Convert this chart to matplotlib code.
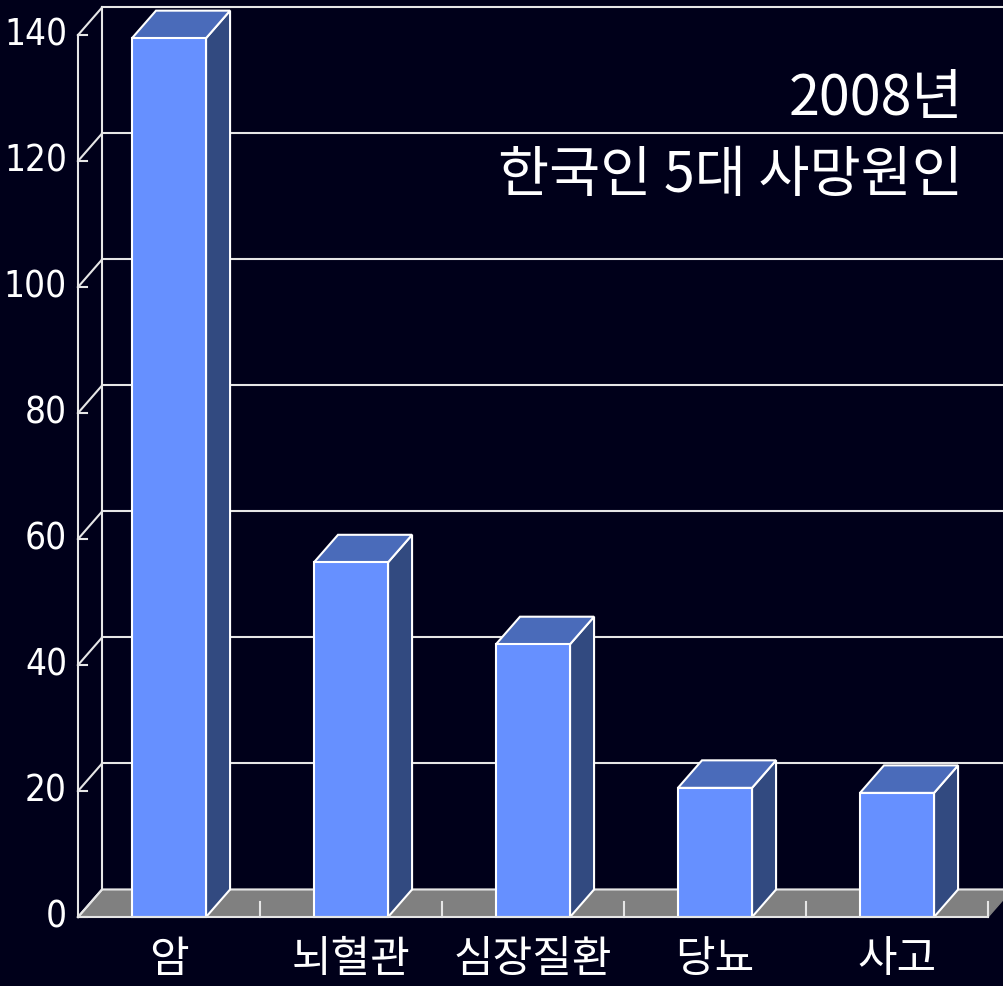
import matplotlib
matplotlib.use('Agg')
import matplotlib.pyplot as plt
from matplotlib import font_manager

# data
categories = ['암', '뇌혈관', '심장질환', '당뇨', '사고']
values = [139.5, 56.3, 43.3, 20.5, 19.7]
yticks = [0, 20, 40, 60, 80, 100, 120, 140]
title_lines = ['2008년', '한국인 5대 사망원인']

# colours
bg = '#00001A'
front_c = '#6690FF'
top_c = '#4A6BBA'
side_c = '#324A80'
floor_c = '#808080'
line_c = '#E6E6E6'

# 3d look: depth offset in data units
dx = 0.132
dy = 4.37
bw = 0.407


def find_narrow():
    # look for a condensed face among the installed fonts
    keys = ['LiberationSansNarrow-Regular', 'DejaVuSansCondensed.',
            'RobotoCondensed-Regular', 'OpenSans_Condensed-Regular',
            'OpenSansCondensed', 'Narrow', 'Condensed']
    files = [f.fname for f in font_manager.fontManager.ttflist]
    files += font_manager.findSystemFonts()
    for k in keys:
        for fn in files:
            base = fn.split('/')[-1]
            if k in base and 'Bold' not in base and 'Italic' not in base \
                    and 'Oblique' not in base and 'Light' not in base:
                return fn
    return None


nfile = find_narrow()
if nfile:
    tick_fp = font_manager.FontProperties(fname=nfile, size=26.5)
else:
    tick_fp = font_manager.FontProperties(family='DejaVu Sans', size=23)
kr = ['Noto Sans CJK KR', 'DejaVu Sans']

fig = plt.figure(figsize=(10.04, 9.86), dpi=100, facecolor=bg)
ax = fig.add_axes([0, 0, 1, 1])
ax.set_facecolor(bg)
ax.axis('off')
ax.set_xlim(-0.9286, 4.5879)
ax.set_ylim(-10.95, 145.56)

n = len(categories)
x0 = -0.5
x1 = n - 0.5
ymax = yticks[-1]

# floor
ax.fill([x0, x1, x1 + dx, x0 + dx], [0, 0, dy, dy], color=floor_c, zorder=1)
ax.plot([x0, x0 + dx, x1 + dx + 1], [0, dy, dy], color=line_c, lw=1.5, zorder=2)
for i in range(1, n + 1):
    ax.plot([i - 0.5, i - 0.5], [0, 2.4], color=line_c, lw=1.5, zorder=2)

# back wall grid + left wall
for t in yticks[1:]:
    ax.plot([x0 + dx, x1 + dx + 1], [t + dy, t + dy], color=line_c, lw=1.5, zorder=1)
for t in yticks:
    ax.plot([x0, x0 + dx], [t, t + dy], color=line_c, lw=1.5, zorder=2)
    ax.plot([x0, x0 + 0.05], [t, t], color=line_c, lw=1.5, zorder=2)
    ax.text(-0.5604, t, str(t), ha='right', va='center', color='white',
            fontproperties=tick_fp)
ax.plot([x0, x0], [0, ymax], color=line_c, lw=1.5, zorder=2)
ax.plot([x0 + dx, x0 + dx], [dy, ymax + dy], color=line_c, lw=1.5, zorder=1)

# bars
for i, v in enumerate(values):
    l = i - bw / 2
    r = i + bw / 2
    ax.fill([r, r + dx, r + dx, r], [0, dy, v + dy, v], facecolor=side_c,
            edgecolor='white', lw=1.5, zorder=3)
    ax.fill([l, r, r + dx, l + dx], [v, v, v + dy, v + dy], facecolor=top_c,
            edgecolor='white', lw=1.5, zorder=3)
    ax.bar(i, v, width=bw, color=front_c, edgecolor='white', lw=1.5, zorder=4)
    ax.text(i, -3.33, categories[i], ha='center', va='top', color='white',
            fontsize=31, family=kr)

ax.plot([x0, x1], [0, 0], color=line_c, lw=1.5, zorder=5)

# title
ax.text(4.362, 127.3, title_lines[0], ha='right', va='baseline', color='white',
        fontsize=40, family=kr, weight='medium')
ax.text(4.362, 115.1, title_lines[1], ha='right', va='baseline', color='white',
        fontsize=40, family=kr, weight='medium')

fig.savefig('out.png', dpi=100, facecolor=bg)
